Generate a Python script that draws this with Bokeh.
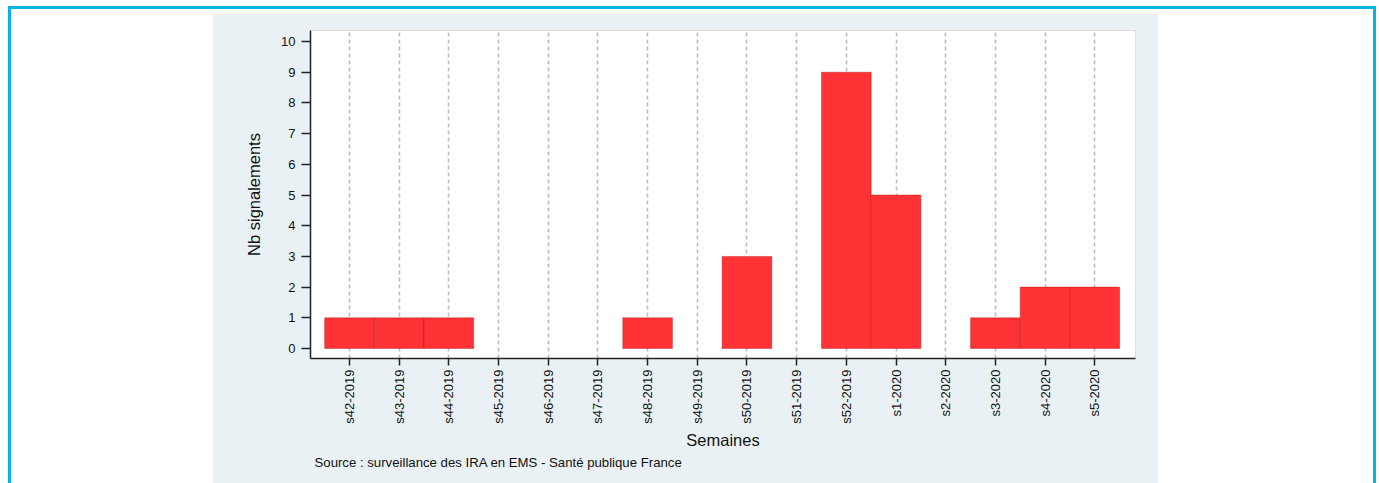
import math
from bokeh.plotting import figure
from bokeh.models import Range1d, FixedTicker, Title, Spacer
from bokeh.layouts import row
from bokeh.embed import file_html
from bokeh.resources import INLINE

# ---- data ----
weeks = ["s42-2019", "s43-2019", "s44-2019", "s45-2019", "s46-2019", "s47-2019",
         "s48-2019", "s49-2019", "s50-2019", "s51-2019", "s52-2019", "s1-2020",
         "s2-2020", "s3-2020", "s4-2020", "s5-2020"]
counts = [1, 1, 1, 0, 0, 0, 1, 0, 3, 0, 9, 5, 0, 1, 2, 2]
y_ticks = [0, 1, 2, 3, 4, 5, 6, 7, 8, 9, 10]
x_title = "Semaines"
y_title = "Nb signalements"
source_note = "Source : surveillance des IRA en EMS - Sant\u00e9 publique France"

FONT = "Liberation Sans"
PANEL = "#e9f1f4"

idx = list(range(len(weeks)))
bar_x = [i for i, c in zip(idx, counts) if c > 0]
bar_top = [c for c in counts if c > 0]

p = figure(width=946, height=470,
           x_range=Range1d(-0.785, 15.82), y_range=Range1d(-0.326, 10.36),
           output_backend="svg", toolbar_location=None,
           min_border_left=98, min_border_right=23,
           min_border_top=17, min_border_bottom=125,
           background_fill_color="white", border_fill_color=PANEL,
           outline_line_color="#dcdcdc")

p.vbar(x=bar_x, top=bar_top, bottom=0, width=1.0,
       fill_color="#ff3236", line_color="#a00000", line_alpha=0.35, line_width=1)

xt = FixedTicker(ticks=idx)
p.xaxis.ticker = xt
p.xgrid.ticker = xt
p.xaxis.major_label_overrides = {i: w for i, w in zip(idx, weeks)}
p.xaxis.major_label_orientation = math.pi / 2
p.yaxis.ticker = FixedTicker(ticks=y_ticks)

p.ygrid.visible = False
p.xgrid.grid_line_color = "#bdbdbd"
p.xgrid.grid_line_width = 1.6
p.xgrid.grid_line_dash = "4 3"

for ax in (p.xaxis, p.yaxis):
    ax.axis_line_color = "#222222"
    ax.axis_line_width = 1.5
    ax.major_tick_line_color = "#222222"
    ax.major_tick_line_width = 1.5
    ax.minor_tick_line_color = None
    ax.major_tick_in = 0
    ax.major_label_text_font = FONT
    ax.major_label_text_font_size = "13px"
    ax.major_label_text_color = "#111111"
    ax.axis_label_text_font = FONT
    ax.axis_label_text_font_size = "16.5px"
    ax.axis_label_text_font_style = "normal"
    ax.axis_label_text_color = "#111111"

p.yaxis.major_tick_out = 9
p.yaxis.major_label_standoff = 6
p.yaxis.axis_label = y_title
p.yaxis.axis_label_standoff = 15
p.xaxis.major_tick_out = 7
p.xaxis.major_label_standoff = 4
p.xaxis.axis_label = x_title
p.xaxis.axis_label_standoff = 4

p.add_layout(Title(text=source_note, align="left", offset=4, standoff=3,
                   text_font=FONT, text_font_size="13.2px",
                   text_font_style="normal", text_color="#111111"), "below")

layout = row(Spacer(width=201, height=470), p, Spacer(width=215, height=470),
             styles={"margin-left": "8px", "margin-top": "6px",
                     "border-top": "3px solid #00b4e6",
                     "border-left": "3px solid #00b4e6",
                     "border-right": "3px solid #00b4e6",
                     "padding-top": "4px",
                     "background-color": "white"})

open("out.html", "w").write(file_html(layout, INLINE))
